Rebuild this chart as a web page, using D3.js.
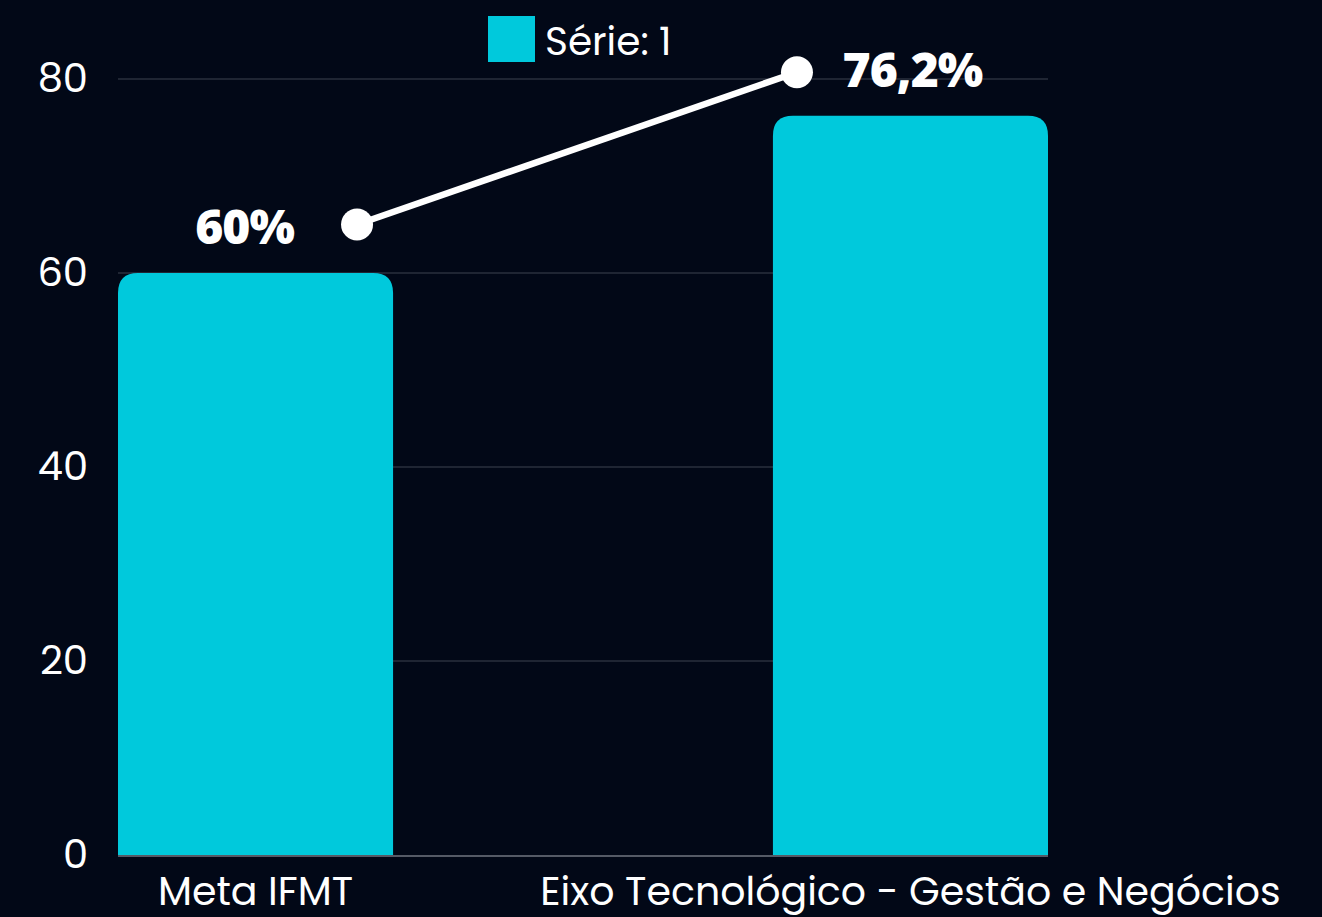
<!DOCTYPE html>
<html lang="pt-BR">
<head>
  <meta charset="UTF-8">
  <title>Meta IFMT</title>
  <script src="https://d3js.org/d3.v7.min.js"></script>
  <style>
    html, body { margin: 0; padding: 0; background: #020817; }
    svg { display: block; }
  </style>
</head>
<body>
  <div class="chart"></div>
  <script>
    // dados do gráfico
    const categories = ['Meta IFMT', 'Eixo Tecnológico - Gestão e Negócios'];
    const barValues = [60, 76.2];
    const barLabels = ['60%', '76,2%'];
    const lineValues = [65, 80.7];
    const yTicks = [0, 20, 40, 60, 80];
    const legendLabels = ['Série: 1'];

    const width = 1322, height = 917;
    const margin = { top: 79, right: 274, bottom: 62, left: 118 };
    const axisFont = 'Poppins, "Noto Sans", sans-serif';

    const svg = d3.select('.chart').append('svg')
      .attr('width', width).attr('height', height);

    const x = d3.scaleBand()
      .domain(categories)
      .range([margin.left, width - margin.right])
      .paddingInner(0.58)
      .paddingOuter(0);

    const xLine = d3.scalePoint()
      .domain(categories)
      .range([margin.left - 6, width - margin.right - 6])
      .padding(0.557);

    const y = d3.scaleLinear()
      .domain([0, 80])
      .range([height - margin.bottom, margin.top]);

    // linhas de grade
    svg.append('g')
      .selectAll('line')
      .data(yTicks.filter(d => d > 0))
      .enter()
      .append('line')
      .attr('x1', margin.left)
      .attr('x2', width - margin.right)
      .attr('y1', d => y(d))
      .attr('y2', d => y(d))
      .attr('stroke', '#3d4250')
      .attr('stroke-width', 1);

    // eixo y
    const yAxis = svg.append('g')
      .attr('transform', `translate(${margin.left - 30},0)`)
      .call(d3.axisLeft(y).tickValues(yTicks).tickSize(0).tickPadding(0));
    yAxis.select('.domain').remove();
    yAxis.selectAll('text')
      .attr('fill', '#ffffff')
      .style('font-family', axisFont)
      .style('font-size', '40px');

    // barras com cantos superiores arredondados
    const r = 20;
    svg.append('g')
      .selectAll('path')
      .data(barValues)
      .enter()
      .append('path')
      .attr('fill', '#00c9dc')
      .attr('d', (d, i) => {
        const x0 = x(categories[i]), w = x.bandwidth();
        const y0 = y(d), y1 = y(0);
        return `M${x0},${y1}V${y0 + r}Q${x0},${y0} ${x0 + r},${y0}` +
          `H${x0 + w - r}Q${x0 + w},${y0} ${x0 + w},${y0 + r}V${y1}Z`;
      });

    // linha de base
    svg.append('line')
      .attr('x1', margin.left)
      .attr('x2', width - margin.right)
      .attr('y1', y(0) + 1)
      .attr('y2', y(0) + 1)
      .attr('stroke', '#555a66')
      .attr('stroke-width', 2);

    // eixo x
    const xAxis = svg.append('g')
      .attr('transform', `translate(0,${y(0)})`)
      .call(d3.axisBottom(x).tickSize(0).tickPadding(22));
    xAxis.select('.domain').remove();
    xAxis.selectAll('text')
      .attr('fill', '#ffffff')
      .style('font-family', axisFont)
      .style('font-size', '39.5px');

    // rótulos das barras
    svg.append('g')
      .selectAll('text')
      .data(barLabels)
      .enter()
      .append('text')
      .attr('x', (d, i) => x(categories[i]) + x.bandwidth() / 2 - (i === 0 ? 11 : -2))
      .attr('y', (d, i) => y(barValues[i]) - 29)
      .attr('text-anchor', 'middle')
      .attr('fill', '#ffffff')
      .style('font-family', '"Open Sans", "Noto Sans", sans-serif')
      .style('font-weight', 800)
      .style('font-size', '48px')
      .style('letter-spacing', '-1px')
      .text(d => d);

    // linha
    const line = d3.line()
      .x((d, i) => xLine(categories[i]))
      .y(d => y(d));
    svg.append('path')
      .datum(lineValues)
      .attr('d', line)
      .attr('fill', 'none')
      .attr('stroke', '#ffffff')
      .attr('stroke-width', 6.5);
    svg.append('g')
      .selectAll('circle')
      .data(lineValues)
      .enter()
      .append('circle')
      .attr('cx', (d, i) => xLine(categories[i]))
      .attr('cy', d => y(d))
      .attr('r', 16)
      .attr('fill', '#ffffff');

    // legenda
    const legend = svg.append('g').attr('transform', 'translate(488,16)');
    legend.selectAll('rect')
      .data(legendLabels)
      .enter()
      .append('rect')
      .attr('width', 47).attr('height', 46)
      .attr('fill', '#00c9dc');
    legend.selectAll('text')
      .data(legendLabels)
      .enter()
      .append('text')
      .attr('x', 57).attr('y', 39)
      .attr('fill', '#ffffff')
      .style('font-family', axisFont)
      .style('font-size', '39px')
      .text(d => d);
  </script>
</body>
</html>
